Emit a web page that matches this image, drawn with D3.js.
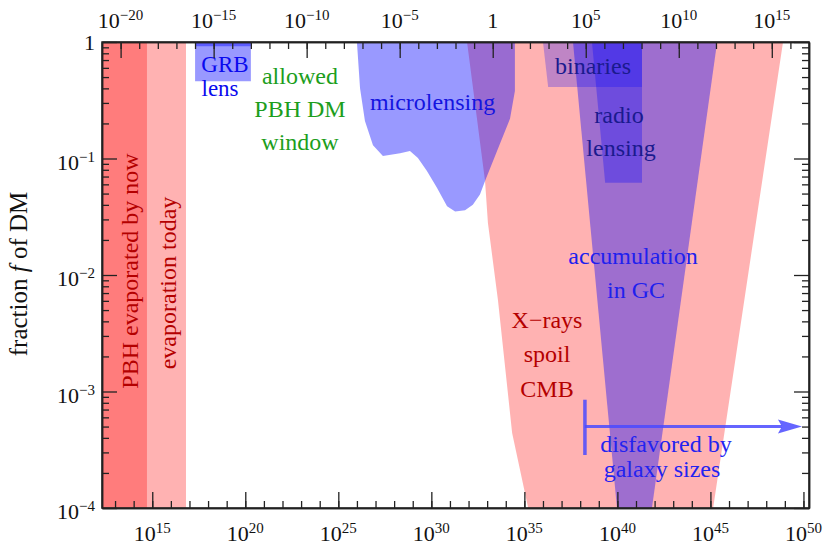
<!DOCTYPE html>
<html lang="en">
<head>
<meta charset="utf-8">
<title>PBH dark matter constraints</title>
<script src="https://cdnjs.cloudflare.com/ajax/libs/d3/7.8.5/d3.min.js"></script>
<style>
  body { margin: 0; background: #fff; }
  svg text { font-family: "Liberation Serif", "DejaVu Serif", serif; }
</style>
</head>
<body>
<script>
// mass M in grams (bottom axis), in solar masses on top; fraction f of DM on left
var msun = 1.989e33;
var sunDomain = [1e-21, 1e17];
var fDomain = [1e-4, 1];

var bottomMajor = [15, 20, 25, 30, 35, 40, 45, 50];
var topMajor = [-20, -15, -10, -5, 0, 5, 10, 15];
var leftMajor = [0, -1, -2, -3, -4];

// constraint regions, [M in g, f]
var evapToday = [[1e12, 1e-4], [6.5e16, 1e-4], [6.5e16, 1], [1e12, 1]];
var evapNow = [[1e12, 1e-4], [5.2e14, 1e-4], [5.2e14, 1], [1e12, 1]];
var xrays = [[8.3e31, 1], [7.7e32, 0.064], [1.1e33, 0.028], [3.8e33, 6.1e-3],
             [2.2e34, 4.4e-4], [1.6e35, 1e-4], [1.4e45, 1e-4], [8e48, 1]];
var grbLens = [[2e17, 0.46], [2e20, 0.46], [2e20, 1], [2e17, 1]];
var grbTop = [[2e17, 0.92], [2e20, 0.92], [2e20, 1], [2e17, 1]];
var microlensing = [[1e26, 1], [1.47e26, 0.40], [2.7e26, 0.21], [7.3e26, 0.13],
                    [2.5e27, 0.105], [2.1e28, 0.111], [7.1e28, 0.116], [1.9e29, 0.101],
                    [5.8e29, 0.078], [2e30, 0.056], [7e30, 0.039], [1.9e31, 0.035],
                    [6.5e31, 0.036], [1.7e32, 0.040], [4.1e32, 0.049], [7.7e32, 0.064],
                    [3.4e33, 0.116], [1.7e34, 0.22], [3.1e34, 0.38], [3.1e34, 1]];
var accumulation = [[4.1e37, 1], [9.5e39, 1e-4], [7.2e41, 1e-4], [2.3e45, 1]];
var binaries = [[1e36, 1], [1.9e36, 0.41], [2.1e41, 0.41], [2.1e41, 1]];
var radio = [[4.3e38, 1], [2.2e39, 0.062], [2.1e41, 0.062], [2.1e41, 1]];

// galaxy sizes bound: bar at M, arrow towards large M
var galaxyM = [1.8e38, 8.3e49];
var galaxyF = 5e-4;
var galaxyBar = [2.85e-4, 8.5e-4];

// labels: text lines, anchor [M, f] of first baseline, line step in px
var labels = [
  {lines: ["GRB"], at: [8.1e18, 0.551], size: 23, color: "#0a0aee"},
  {lines: ["lens"], at: [4.4e18, 0.341], size: 23, color: "#0a0aee"},
  {lines: ["allowed", "PBH DM", "window"], at: [8.7e22, 0.436], step: 33, color: "#1c9e1c"},
  {lines: ["microlensing"], at: [1.16e30, 0.261], color: "#1414e0"},
  {lines: ["binaries"], at: [4.9e38, 0.531], color: "#1a1a8e"},
  {lines: ["radio"], at: [1.22e40, 0.202], color: "#1a1a8e"},
  {lines: ["lensing"], at: [1.56e40, 0.105], color: "#1a1a8e"},
  {lines: ["accumulation"], at: [6.9e40, 0.0124], color: "#2020ee"},
  {lines: ["in GC"], at: [1e41, 0.00635], color: "#2020ee"},
  {lines: ["X\u2212rays", "spoil", "CMB"], at: [1.65e36, 0.00351], step: 34.5, color: "#b40000"},
  {lines: ["disfavored by"], at: [4.1e42, 3.03e-4], color: "#2323f0"},
  {lines: ["galaxy sizes"], at: [2.5e42, 1.85e-4], color: "#2323f0"}
];

var W = 826, H = 545;
var x = d3.scaleLog().domain(sunDomain.map(function(d) { return d * msun; })).range([102, 809]);
var xs = d3.scaleLog().domain(sunDomain).range([102, 809]);
var y = d3.scaleLog().domain(fDomain).range([508, 42]);

var svg = d3.select("body").append("svg")
  .attr("width", W).attr("height", H);

svg.append("clipPath").attr("id", "plot")
  .append("rect").attr("x", 102).attr("y", 42).attr("width", 707).attr("height", 466);

var g = svg.append("g").attr("clip-path", "url(#plot)");
var poly = d3.line().x(function(d) { return x(d[0]); }).y(function(d) { return y(d[1]); });

function region(pts, color, op) {
  g.append("path").attr("d", poly(pts) + "Z")
    .attr("fill", color).attr("fill-opacity", op).attr("stroke", "none");
}

var pink = "#ff0000", blue = "#0000ff";
region(evapToday, pink, 0.3);
region(evapNow, pink, 0.3);
region(xrays, pink, 0.3);
region(grbLens, blue, 0.4);
region(grbTop, blue, 0.4);
region(microlensing, blue, 0.4);
region(accumulation, blue, 0.38);
region(binaries, blue, 0.25);
region(radio, blue, 0.3);

// galaxy sizes arrow
var arrowCol = "#4a4aff";
var x0 = x(galaxyM[0]), x1 = x(galaxyM[1]), ya = y(galaxyF);
g.append("line").attr("x1", x0).attr("x2", x0)
  .attr("y1", y(galaxyBar[0])).attr("y2", y(galaxyBar[1]))
  .attr("stroke", arrowCol).attr("stroke-opacity", 0.85).attr("stroke-width", 3.5);
g.append("line").attr("x1", x0).attr("x2", x1 - 20).attr("y1", ya).attr("y2", ya)
  .attr("stroke", arrowCol).attr("stroke-opacity", 0.85).attr("stroke-width", 3);
g.append("path").attr("d", "M" + x1 + "," + ya + "L" + (x1 - 24) + "," + (ya - 7) +
    "L" + (x1 - 20) + "," + ya + "L" + (x1 - 24) + "," + (ya + 7) + "Z")
  .attr("fill", arrowCol).attr("fill-opacity", 0.85);

// rotated evaporation labels
svg.append("text").attr("transform", "translate(138,271) rotate(-90)")
  .attr("text-anchor", "middle").attr("font-size", 24).attr("fill", "#b40000")
  .text("PBH evaporated by now");
svg.append("text").attr("transform", "translate(176,283) rotate(-90)")
  .attr("text-anchor", "middle").attr("font-size", 24).attr("fill", "#b40000")
  .text("evaporation today");

// region labels
labels.forEach(function(l) {
  var t = svg.append("text").attr("text-anchor", "middle").attr("font-size", l.size || 24)
    .attr("fill", l.color);
  l.lines.forEach(function(s, i) {
    t.append("tspan").attr("x", x(l.at[0])).attr("y", y(l.at[1]) + i * (l.step || 0)).text(s);
  });
});

// axes
function decades(a, b) { return d3.range(a, b + 1).map(function(e) { return Math.pow(10, e); }); }
var minorF = [];
d3.range(-4, 0).forEach(function(e) {
  d3.range(2, 10).forEach(function(k) { minorF.push(k * Math.pow(10, e)); });
});

function drawAxis(axis, tf, major, minor, bigLen, smallLen) {
  var a1 = svg.append("g").attr("transform", tf)
    .call(axis.tickValues(major).tickSize(-bigLen).tickSizeOuter(0).tickFormat(""));
  var a2 = svg.append("g").attr("transform", tf)
    .call(axis.tickValues(minor).tickSize(-smallLen).tickSizeOuter(0).tickFormat(""));
  [a1, a2].forEach(function(a) {
    a.selectAll("line").attr("stroke", "#222").attr("stroke-width", 1.3);
    a.select(".domain").attr("stroke", "#222").attr("stroke-width", 1.5);
  });
}

var bMaj = bottomMajor.map(function(e) { return Math.pow(10, e); });
drawAxis(d3.axisBottom(x), "translate(0,508)", bMaj, decades(13, 50), 16, 7);
var tMaj = topMajor.map(function(e) { return Math.pow(10, e); });
drawAxis(d3.axisTop(xs), "translate(0,42)", tMaj, decades(-20, 16), 16, 7);
var lMaj = leftMajor.map(function(e) { return Math.pow(10, e); });
drawAxis(d3.axisLeft(y), "translate(102,0)", lMaj, minorF, 15, 7);
drawAxis(d3.axisRight(y), "translate(809,0)", lMaj, minorF, 15, 7);

// power labels
function powLabel(sel, e) {
  if (e === 0) { sel.text("1"); return; }
  sel.append("tspan").text("10");
  sel.append("tspan").attr("font-size", 15).attr("dy", -8)
    .text(e < 0 ? "\u2212" + (-e) : String(e));
}

bottomMajor.forEach(function(e) {
  var t = svg.append("text").attr("x", x(Math.pow(10, e))).attr("y", 541)
    .attr("text-anchor", "middle").attr("font-size", 22).attr("fill", "#111");
  powLabel(t, e);
});
topMajor.forEach(function(e) {
  var t = svg.append("text").attr("x", xs(Math.pow(10, e))).attr("y", 28)
    .attr("text-anchor", "middle").attr("font-size", 22).attr("fill", "#111");
  powLabel(t, e);
});
leftMajor.forEach(function(e) {
  var t = svg.append("text").attr("x", 95).attr("y", y(Math.pow(10, e)) + (e === 0 ? 8 : 11))
    .attr("text-anchor", "end").attr("font-size", 22).attr("fill", "#111");
  powLabel(t, e);
});

// y title
var yt = svg.append("text").attr("transform", "translate(27,274) rotate(-90)")
  .attr("text-anchor", "middle").attr("font-size", 25).attr("fill", "#111");
yt.append("tspan").text("fraction ");
yt.append("tspan").attr("font-style", "italic").text("f");
yt.append("tspan").text(" of DM");

// frame
svg.append("rect").attr("x", 102).attr("y", 42).attr("width", 707).attr("height", 466)
  .attr("fill", "none").attr("stroke", "#222").attr("stroke-width", 1.5);
</script>
</body>
</html>
